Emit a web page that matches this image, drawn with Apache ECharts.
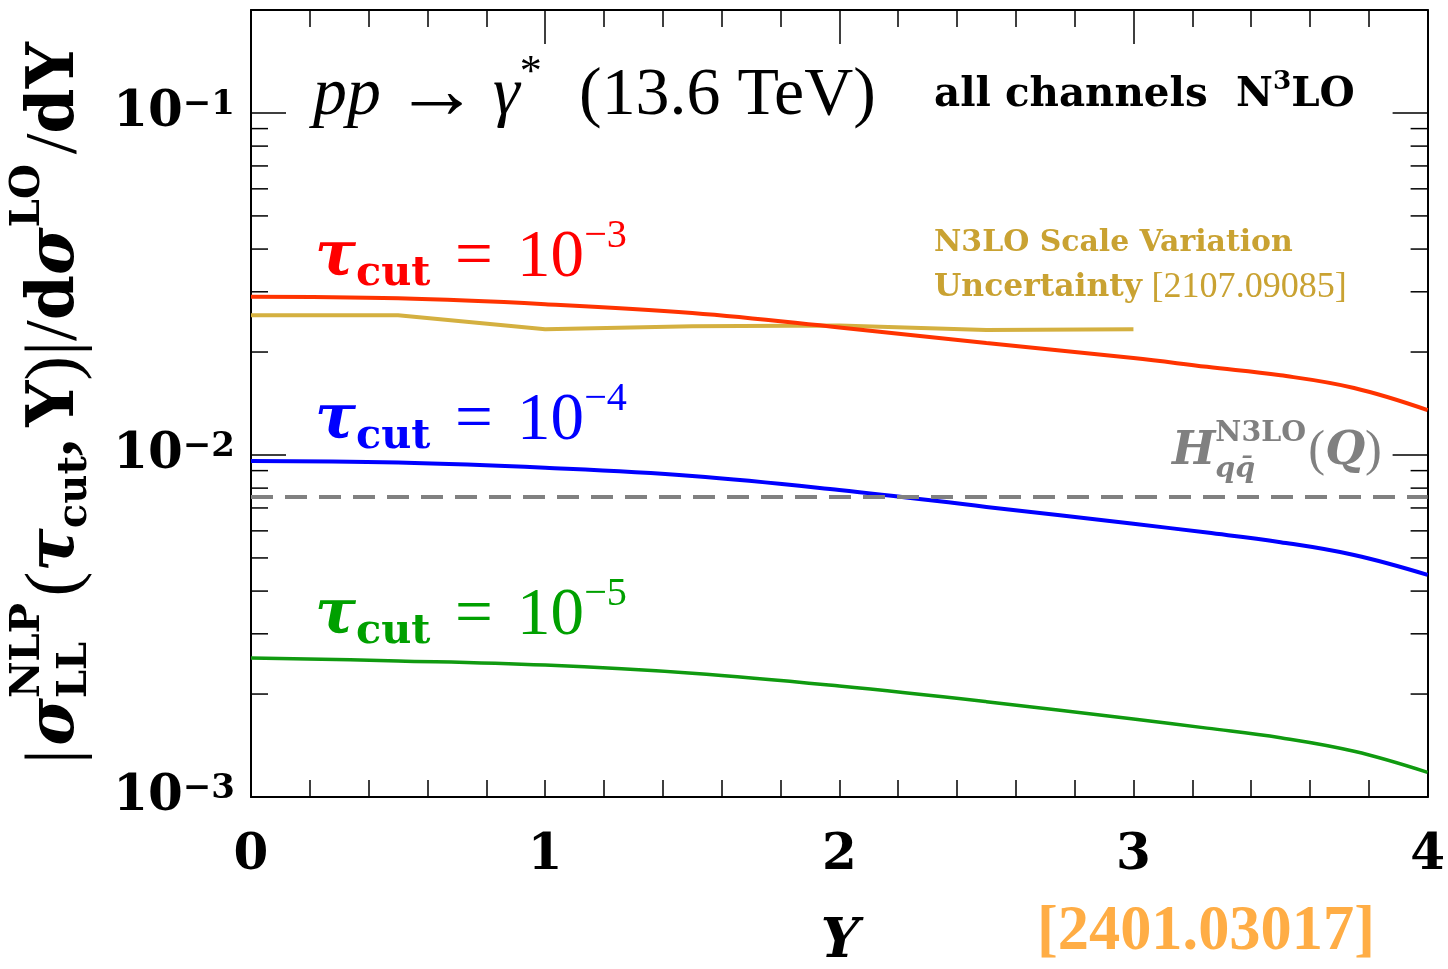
<!DOCTYPE html>
<html><head><meta charset="utf-8">
<script src="https://cdn.jsdelivr.net/npm/echarts@6/dist/echarts.min.js"></script>
<style>html,body{margin:0;padding:0;background:#fff}#c{width:1448px;height:969px}</style>
</head><body><div id="c"></div>
<script>
// ---------- data ----------
const rapidity   = [0, 0.5, 1, 1.5, 2, 2.5, 3, 3.25, 3.5, 3.75, 4];
const tauCut1e3  = [0.0290, 0.0287, 0.0276, 0.0260, 0.0236, 0.02125, 0.0192, 0.0181, 0.0171, 0.0157, 0.01353];
const tauCut1e4  = [0.0096, 0.0095, 0.00917, 0.00868, 0.0079, 0.00705, 0.00629, 0.00593, 0.00556, 0.0051, 0.00446];
const tauCut1e5  = [0.00255, 0.0025, 0.00243, 0.0023, 0.00211, 0.0019, 0.00169, 0.00159, 0.00149, 0.00136, 0.00118];
const scaleVarRapidity = [0, 0.5, 1, 1.5, 2, 2.5, 3];
const scaleVarN3LO     = [0.0256, 0.0256, 0.0233, 0.0238, 0.0239, 0.0232, 0.0233];
const hardRapidity = [0, 4];
const hardN3LO     = [0.00753, 0.00753];
const xTickValues  = [0, 1, 2, 3, 4];
const yMinorTicks  = [0.002,0.003,0.004,0.005,0.006,0.007,0.008,0.009,
                      0.02,0.03,0.04,0.05,0.06,0.07,0.08,0.09];

// ---------- helpers ----------
const SERIF = "'DejaVu Serif', serif";
const TIMES = "'Liberation Serif', serif";
const mctx = document.createElement('canvas').getContext('2d');
function fstr(size, b, i, fam) { return (i ? 'italic ' : '') + (b ? 'bold ' : '') + size + 'px ' + fam; }
function meas(t, size, b, i, fam) { mctx.font = fstr(size, b, i, fam); return mctx.measureText(t).width; }
function layout(pieces, base, fam) {
  let x = 0, prevStart = 0, prevEnd = 0; const out = [];
  for (const p of pieces) {
    const size = base * (p.s || 1);
    const f = p.f || fam;
    const w = meas(p.t, size, p.b, p.i, f);
    let start;
    if (p.stack) { start = prevStart; x = Math.max(prevEnd, start + w); prevEnd = Math.max(prevEnd, start + w); }
    else { start = x + (p.g || 0) * base; x = start + w; prevStart = start; prevEnd = x; }
    out.push({ t: p.t, x: start, dy: (p.dy || 0) * base, size, b: p.b, i: p.i, f });
  }
  return { items: out, width: x };
}
function fitLine(x0, x1, yMid, pieces, color, fam) {
  fam = fam || SERIF;
  const w100 = layout(pieces, 100, fam).width;
  const base = 100 * (x1 - x0) / w100;
  const L = layout(pieces, base, fam);
  return L.items.map(it => ({
    type: 'text', x: x0 + it.x, y: yMid + it.dy, silent: true,
    style: { text: it.t, fontSize: it.size, fontFamily: it.f, fontWeight: it.b ? 'bold' : 'normal',
             fontStyle: it.i ? 'italic' : 'normal', fill: color, align: 'left', verticalAlign: 'middle' }
  }));
}
const zip = (xs, ys) => xs.map((x, k) => [x, ys[k]]);

// ---------- annotations ----------
const tauPieces = e => [
  { t: 'τ', b: 1, i: 1 },
  { t: 'cut', b: 1, s: 0.68, dy: 0.27 },
  { t: '=', g: 0.4, f: TIMES, s: 1.1 },
  { t: '10', g: 0.4, f: TIMES, s: 1.1 },
  { t: '−' + e, s: 0.66, dy: -0.36, f: TIMES }
];
const graphics = [];
graphics.push(...fitLine(313, 876, 96, [
  { t: 'pp', i: 1 }, { t: '→', g: 0.2, s: 1.25 }, { t: 'γ', i: 1, g: 0.2 },
  { t: '*', s: 0.65, dy: -0.33 }, { t: '(13.6 TeV)', g: 0.55 }], '#000', TIMES));
graphics.push(...fitLine(934, 1355, 96, [
  { t: 'all channels', b: 1 }, { t: 'N', b: 1, g: 0.7 },
  { t: '3', b: 1, s: 0.65, dy: -0.33 }, { t: 'LO', b: 1 }], '#000'));
graphics.push(...fitLine(934, 1293, 243, [{ t: 'N3LO Scale Variation', b: 1 }], '#c9a232'));
graphics.push(...fitLine(934, 1347, 288, [{ t: 'Uncertainty', b: 1 }, { t: '[2107.09085]', g: 0.3, f: TIMES, s: 1.15 }], '#c9a232'));
graphics.push(...fitLine(315, 627, 258, tauPieces(3), '#ff0000'));
graphics.push(...fitLine(315, 627, 421, tauPieces(4), '#0000ff'));
graphics.push(...fitLine(315, 627, 616, tauPieces(5), '#00a000'));
graphics.push(...fitLine(1172, 1382, 452, [
  { t: 'H', b: 1, i: 1 }, { t: 'N3LO', b: 1, s: 0.62, dy: -0.4 },
  { t: 'qq̄', b: 1, i: 1, s: 0.62, dy: 0.38, stack: 1 },
  { t: '(', g: 0.05, f: TIMES, s: 1.1 }, { t: 'Q', b: 1, i: 1 }, { t: ')', f: TIMES, s: 1.1 }], '#808080'));
graphics.push(...fitLine(1037, 1375, 933, [{ t: '[2401.03017]', b: 1 }], '#ffad45', TIMES));
graphics.push({ type: 'text', x: 840, y: 943, silent: true,
  style: { text: 'Y', fontSize: 54, fontFamily: SERIF, fontWeight: 'bold', fontStyle: 'italic',
           fill: '#000', align: 'center', verticalAlign: 'middle' } });
// rotated y-axis title (local coords: x along the text, y across it)
const yTitle = fitLine(0, 722, 0, [
  { t: '|', f: TIMES, s: 1.15 }, { t: 'σ', b: 1, i: 1, g: 0.05 },
  { t: 'NLP', b: 1, s: 0.62, dy: -0.42 }, { t: 'LL', b: 1, s: 0.62, dy: 0.3, stack: 1 },
  { t: '(', g: 0.1, f: TIMES, s: 1.15 }, { t: 'τ', b: 1, i: 1 }, { t: 'cut', b: 1, s: 0.62, dy: 0.3 },
  { t: ',', b: 1, f: TIMES }, { t: 'Y', b: 1, g: 0.2 }, { t: ')', f: TIMES, s: 1.15 },
  { t: '|', f: TIMES, s: 1.15 }, { t: '/', f: TIMES, s: 1.15 },
  { t: 'd', b: 1 }, { t: 'σ', b: 1, i: 1 }, { t: 'LO', b: 1, s: 0.62, dy: -0.42 },
  { t: '/', g: 0.15, f: TIMES, s: 1.15 }, { t: 'dY', b: 1 }], '#000');
graphics.push({ type: 'group', x: 56, y: 764, rotation: Math.PI / 2, children: yTitle });

// ---------- chart ----------
const axisLineStyle = { color: '#000', width: 2 };
const tickStyle = { color: '#000', width: 1.5 };
const chart = echarts.init(document.getElementById('c'), null, { renderer: 'canvas' });
const option = {
  animation: false,
  backgroundColor: '#fff',
  grid: { left: 251, right: 17, top: 10, bottom: 172, containLabel: false },
  xAxis: [
    { type: 'value', min: 0, max: 4, interval: 1, position: 'bottom',
      axisLine: { show: true, onZero: false, lineStyle: axisLineStyle },
      axisTick: { show: true, inside: true, length: 17, lineStyle: tickStyle, customValues: xTickValues },
      minorTick: { show: true, splitNumber: 5, length: 17, lineStyle: tickStyle },
      splitLine: { show: false }, minorSplitLine: { show: false },
      axisLabel: { show: true, fontSize: 50, fontFamily: SERIF, fontWeight: 'bold', color: '#000', margin: 34,
                   customValues: xTickValues, formatter: v => String(v) } },
    { type: 'value', min: 0, max: 4, interval: 1, position: 'top',
      axisLine: { show: true, onZero: false, lineStyle: axisLineStyle },
      axisTick: { show: true, inside: true, length: 34, lineStyle: tickStyle },
      minorTick: { show: true, splitNumber: 5, length: 17, lineStyle: tickStyle },
      splitLine: { show: false }, axisLabel: { show: false } }
  ],
  yAxis: [
    { type: 'log', logBase: 10, min: 0.001, max: 0.2, position: 'left',
      axisLine: { show: true, onZero: false, lineStyle: axisLineStyle },
      axisTick: { show: true, inside: true, length: 35, lineStyle: tickStyle },
      splitLine: { show: false },
      axisLabel: { show: true, margin: 16,
        formatter: v => { const e = Math.round(Math.log10(v));
          if (Math.abs(Math.log10(v) - e) > 1e-6) return '';
          return '{b|10}{s|−' + (-e) + '}'; },
        rich: { b: { fontSize: 50, fontWeight: 'bold', fontFamily: SERIF, color: '#000' },
                s: { fontSize: 34, fontWeight: 'bold', fontFamily: SERIF, color: '#000', verticalAlign: 'top' } } } },
    { type: 'log', logBase: 10, min: 0.001, max: 0.2, position: 'right',
      axisLine: { show: true, onZero: false, lineStyle: axisLineStyle },
      axisTick: { show: true, inside: true, length: 35, lineStyle: tickStyle },
      splitLine: { show: false }, axisLabel: { show: false } }
  ],
  graphic: graphics,
  series: [
    { type: 'custom', name: 'yMinor', xAxisIndex: 0, yAxisIndex: 0, silent: true, clip: false,
      data: yMinorTicks.map(v => [0, v]),
      renderItem: (params, api) => {
        const v = api.value(1);
        const pl = api.coord([0, v]), pr = api.coord([4, v]);
        return { type: 'group', children: [
          { type: 'line', shape: { x1: pl[0], y1: pl[1], x2: pl[0] + 17, y2: pl[1] }, style: { stroke: '#000', lineWidth: 1.5 } },
          { type: 'line', shape: { x1: pr[0] - 17, y1: pr[1], x2: pr[0], y2: pr[1] }, style: { stroke: '#000', lineWidth: 1.5 } }
        ] };
      } },
    { type: 'line', name: 'scaleVar', data: zip(scaleVarRapidity, scaleVarN3LO), symbol: 'none',
      lineStyle: { color: '#d4b040', width: 4 } },
    { type: 'line', name: 'tau1e-3', data: zip(rapidity, tauCut1e3), symbol: 'none', smooth: 0.4,
      lineStyle: { color: '#ff3300', width: 4 } },
    { type: 'line', name: 'tau1e-4', data: zip(rapidity, tauCut1e4), symbol: 'none', smooth: 0.4,
      lineStyle: { color: '#0000ff', width: 4 } },
    { type: 'line', name: 'tau1e-5', data: zip(rapidity, tauCut1e5), symbol: 'none', smooth: 0.4,
      lineStyle: { color: '#109a10', width: 3.5 } },
    { type: 'line', name: 'hard', data: zip(hardRapidity, hardN3LO), symbol: 'none',
      lineStyle: { color: '#808080', width: 4, type: [22, 12] } }
  ]
};
chart.setOption(option);
</script>
</body></html>
